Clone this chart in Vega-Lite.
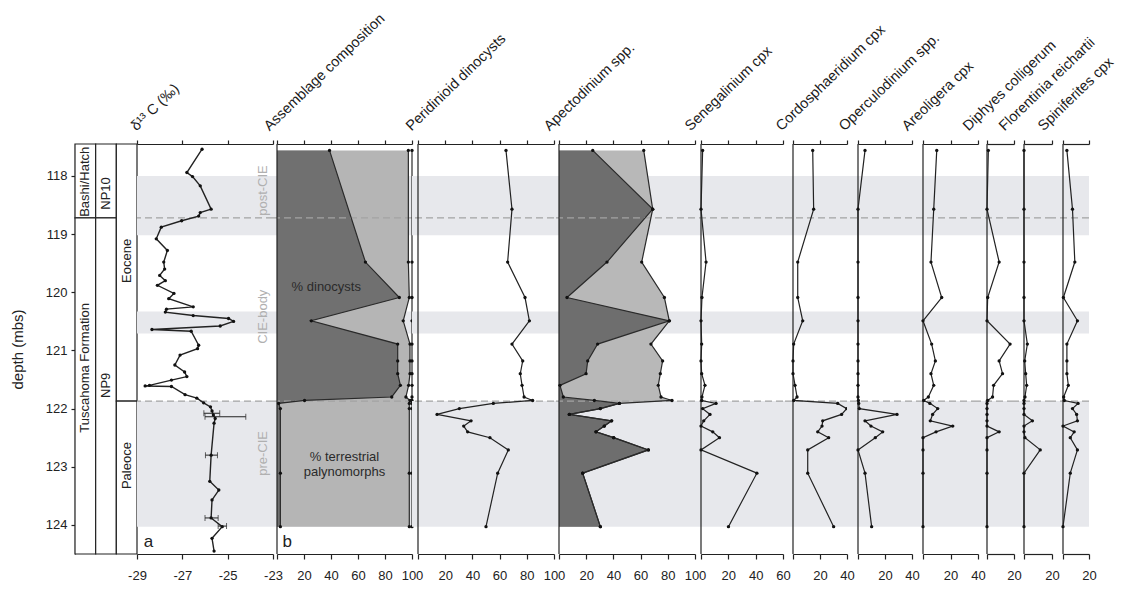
{
  "$schema": "https://vega.github.io/schema/vega-lite/v6.json",
  "padding": {"left": 10, "top": 10, "right": 5, "bottom": 5},
  "config": {
    "font": "Liberation Sans",
    "view": {"stroke": null},
    "axis": {"grid": false, "domainColor": "#222", "tickColor": "#222", "labelColor": "#222", "domainWidth": 1.2, "tickWidth": 1.2, "labelFontSize": 13, "labelOverlap": false, "labelFlush": false, "labelFont": "Liberation Sans", "titleFont": "Liberation Sans"},
    "axisTop": {"labels": false, "tickSize": 4, "titleAngle": -44, "titleAlign": "left", "titleBaseline": "alphabetic", "titleY": -13, "titleFontSize": 14.5, "titleFontWeight": "normal", "titleColor": "#1a1a1a"},
    "axisBottom": {"tickSize": 5, "labelPadding": 10, "labelExpr": "datum.value == 0 ? '' : toString(datum.value)"}
  },
  "datasets": {
    "bands": [{"top": 118.0, "base": 119.02}, {"top": 120.33, "base": 120.71}, {"top": 121.87, "base": 124.03}],
    "bounds": [{"depth": 118.72}, {"depth": 121.87}],
    "units": [
      {"col": "lith", "top": 117.45, "base": 118.72}, {"col": "lith", "top": 118.72, "base": 124.5},
      {"col": "zone", "top": 117.45, "base": 118.72}, {"col": "zone", "top": 118.72, "base": 124.5},
      {"col": "epoch", "top": 117.45, "base": 121.87}, {"col": "epoch", "top": 121.87, "base": 124.5}
    ],
    "unitLabels": [
      {"col": "lith", "label": "Bashi/Hatch", "depth": 118.1},
      {"col": "lith", "label": "Tuscahoma Formation", "depth": 121.3},
      {"col": "zone", "label": "NP10", "depth": 118.3},
      {"col": "zone", "label": "NP9", "depth": 121.6},
      {"col": "epoch", "label": "Eocene", "depth": 119.46},
      {"col": "epoch", "label": "Paleoce", "depth": 122.98}
    ],
    "phases": [{"phase": "post-CIE", "depth": 118.25}, {"phase": "CIE-body", "depth": 120.42}, {"phase": "pre-CIE", "depth": 122.77}],
    "d13c": [
      {"depth": 117.54, "d13c": -26.13}, {"depth": 117.94, "d13c": -26.8}, {"depth": 118.01, "d13c": -26.55},
      {"depth": 118.17, "d13c": -26.21}, {"depth": 118.57, "d13c": -25.73}, {"depth": 118.63, "d13c": -26.21},
      {"depth": 118.69, "d13c": -26.28}, {"depth": 118.77, "d13c": -27.03}, {"depth": 118.88, "d13c": -27.93},
      {"depth": 119.08, "d13c": -28.15}, {"depth": 119.28, "d13c": -27.66}, {"depth": 119.48, "d13c": -27.82},
      {"depth": 119.6, "d13c": -27.78}, {"depth": 119.71, "d13c": -28.0}, {"depth": 119.8, "d13c": -27.75},
      {"depth": 119.88, "d13c": -28.1}, {"depth": 120.02, "d13c": -27.37}, {"depth": 120.11, "d13c": -27.6},
      {"depth": 120.25, "d13c": -26.52}, {"depth": 120.29, "d13c": -27.7}, {"depth": 120.34, "d13c": -27.75},
      {"depth": 120.4, "d13c": -26.52}, {"depth": 120.45, "d13c": -24.96}, {"depth": 120.5, "d13c": -24.74},
      {"depth": 120.58, "d13c": -25.33}, {"depth": 120.64, "d13c": -28.34}, {"depth": 120.67, "d13c": -26.61},
      {"depth": 120.91, "d13c": -26.28}, {"depth": 120.97, "d13c": -26.33}, {"depth": 121.08, "d13c": -27.1},
      {"depth": 121.25, "d13c": -27.33}, {"depth": 121.37, "d13c": -26.9}, {"depth": 121.45, "d13c": -26.8},
      {"depth": 121.51, "d13c": -27.48}, {"depth": 121.6, "d13c": -28.45}, {"depth": 121.61, "d13c": -28.64},
      {"depth": 121.62, "d13c": -27.48}, {"depth": 121.76, "d13c": -26.88}, {"depth": 121.82, "d13c": -26.36},
      {"depth": 121.9, "d13c": -26.06}, {"depth": 121.97, "d13c": -25.76}, {"depth": 122.04, "d13c": -25.69},
      {"depth": 122.11, "d13c": -25.63}, {"depth": 122.17, "d13c": -25.55}, {"depth": 122.25, "d13c": -25.6},
      {"depth": 122.8, "d13c": -25.73}, {"depth": 123.25, "d13c": -25.79}, {"depth": 123.4, "d13c": -25.39},
      {"depth": 123.57, "d13c": -25.69}, {"depth": 123.88, "d13c": -25.73}, {"depth": 124.03, "d13c": -25.24},
      {"depth": 124.23, "d13c": -25.69}, {"depth": 124.45, "d13c": -25.6}
    ],
    "d13cErr": [
      {"depth": 122.08, "lo": -26.05, "hi": -25.35}, {"depth": 122.14, "lo": -26.0, "hi": -24.2},
      {"depth": 122.8, "lo": -25.98, "hi": -25.45}, {"depth": 123.88, "lo": -26.0, "hi": -25.42},
      {"depth": 124.02, "lo": -25.42, "hi": -25.05}
    ],
    "paly": [
      {"depth": 117.56, "asmA": 38.9, "asmB": 97.3, "asmC": 100, "peri": 64.7, "apecA": 24.8, "apecB": 62.3, "sene": 1.2, "cord": 14.6, "oper": 5.2, "areo": 10.0, "diph": 1.0, "flor": 0, "spin": 3.0},
      {"depth": 118.57, "peri": 69.1, "apecA": 68.9, "apecB": 68.9, "sene": 0, "cord": 15.3, "oper": 0, "areo": 7.8, "diph": 0, "flor": 0, "spin": 7.3},
      {"depth": 119.48, "asmA": 65.5, "asmB": 97.3, "asmC": 100, "peri": 65.9, "apecA": 35.3, "apecB": 60.8, "sene": 3.7, "cord": 3.5, "oper": 0, "areo": 5.8, "diph": 9.0, "flor": 0, "spin": 9.1},
      {"depth": 120.09, "asmA": 90.6, "asmB": 98.0, "asmC": 100, "peri": 78.7, "apecA": 5.9, "apecB": 77.5, "sene": 0.7, "cord": 3.5, "oper": 0, "areo": 13.6, "diph": 0.5, "flor": 0, "spin": 0.3},
      {"depth": 120.49, "asmA": 25.4, "asmB": 93.5, "asmC": 100, "peri": 81.9, "apecA": 81.1, "apecB": 81.1, "sene": 0, "cord": 7.2, "oper": 0, "areo": 0, "diph": 0, "flor": 0, "spin": 11.1},
      {"depth": 120.89, "asmA": 89.4, "asmB": 98.5, "asmC": 100, "peri": 69.1, "apecA": 28.4, "apecB": 67.6, "sene": 0.5, "cord": 0.5, "oper": 0, "areo": 6.3, "diph": 17.1, "flor": 2.4, "spin": 3.0},
      {"depth": 121.18, "asmA": 89.4, "asmB": 98.5, "asmC": 100, "peri": 77.0, "apecA": 21.1, "apecB": 76.2, "sene": 0, "cord": 0, "oper": 0, "areo": 9.0, "diph": 9.0, "flor": 0.5, "spin": 3.0},
      {"depth": 121.4, "asmA": 89.4, "asmB": 98.5, "asmC": 100, "peri": 75.2, "apecA": 19.9, "apecB": 74.5, "sene": 0.5, "cord": 0, "oper": 0, "areo": 5.8, "diph": 11.5, "flor": 1.2, "spin": 3.0},
      {"depth": 121.6, "asmA": 91.4, "asmB": 97.5, "asmC": 100, "peri": 76.5, "apecA": 0.7, "apecB": 73.0, "sene": 2.9, "cord": 1.5, "oper": 0, "areo": 7.8, "diph": 4.9, "flor": 1.9, "spin": 4.1},
      {"depth": 121.8, "asmA": 85.0, "asmB": 95.5, "asmC": 100, "peri": 78.0, "apecA": 3.2, "apecB": 75.0, "sene": 0.7, "cord": 3.0, "oper": 0, "areo": 3.9, "diph": 4.1, "flor": 0.7, "spin": 0.5},
      {"depth": 121.86, "asmA": 20.4, "asmB": 98.5, "asmC": 100, "peri": 84.3, "apecA": 26.0, "apecB": 83.1, "sene": 0.5, "cord": 0.5, "oper": 0.3, "areo": 0.5, "diph": 0.5, "flor": 0, "spin": 1.0},
      {"depth": 121.91, "asmA": 1.2, "asmB": 98.0, "asmC": 100, "peri": 55.4, "apecA": 44.4, "apecB": 44.4, "sene": 11.0, "cord": 33.1, "oper": 0.5, "areo": 5.0, "diph": 0, "flor": 0, "spin": 11.6},
      {"depth": 122.0, "asmA": 2.5, "asmB": 98.0, "asmC": 100, "peri": 30.4, "apecA": 30.4, "apecB": 30.4, "sene": 1.2, "cord": 39.8, "oper": 1.0, "areo": 10.7, "diph": 0, "flor": 0, "spin": 7.3},
      {"depth": 122.1, "peri": 14.0, "apecA": 7.6, "apecB": 7.6, "sene": 6.6, "cord": 36.0, "oper": 28.9, "areo": 7.0, "diph": 0, "flor": 0, "spin": 10.5},
      {"depth": 122.21, "peri": 39.0, "apecA": 38.7, "apecB": 38.7, "sene": 2.0, "cord": 22.0, "oper": 5.2, "areo": 5.3, "diph": 0, "flor": 6.0, "spin": 11.1},
      {"depth": 122.3, "peri": 33.6, "apecA": 33.3, "apecB": 33.3, "sene": 0, "cord": 21.5, "oper": 9.6, "areo": 21.6, "diph": 0, "flor": 0, "spin": 0},
      {"depth": 122.4, "peri": 36.5, "apecA": 27.2, "apecB": 27.2, "sene": 8.6, "cord": 18.3, "oper": 18.3, "areo": 9.5, "diph": 9.0, "flor": 0, "spin": 8.6},
      {"depth": 122.5, "peri": 52.9, "apecA": 40.2, "apecB": 40.2, "sene": 13.5, "cord": 26.4, "oper": 12.8, "areo": 0, "diph": 0, "flor": 0.7, "spin": 5.6},
      {"depth": 122.71, "peri": 66.4, "apecA": 65.7, "apecB": 65.7, "sene": 0, "cord": 10.9, "oper": 0, "areo": 0, "diph": 0, "flor": 11.6, "spin": 11.1},
      {"depth": 123.11, "asmA": 2.5, "asmB": 98.0, "asmC": 100, "peri": 58.6, "apecA": 17.4, "apecB": 17.4, "sene": 40.9, "cord": 10.9, "oper": 5.2, "areo": 0, "diph": 0, "flor": 0, "spin": 5.6},
      {"depth": 124.03, "asmA": 2.5, "asmB": 98.0, "asmC": 100, "peri": 50.0, "apecA": 30.4, "apecB": 30.4, "sene": 20.1, "cord": 30.1, "oper": 10.1, "areo": 0, "diph": 0, "flor": 0, "spin": 0}
    ]
  },
  "spacing": 0,
  "bounds": "flush",
  "hconcat": [
    {
      "width": 62, "height": 410,
      "layer": [
        {"data": {"name": "units"}, "mark": {"type": "rect", "fill": "white", "stroke": "#222", "strokeWidth": 1.2},
         "encoding": {
           "x": {"field": "col", "type": "nominal", "sort": ["lith", "zone", "epoch"], "scale": {"paddingInner": 0, "paddingOuter": 0}, "axis": null},
           "y": {"field": "top", "type": "quantitative", "scale": {"domain": [117.45, 124.5], "reverse": true, "nice": false, "zero": false},
                 "axis": {"orient": "left", "values": [118, 119, 120, 121, 122, 123, 124], "format": "d", "title": "depth (mbs)", "titleFontSize": 15, "titleFontWeight": "normal", "titleColor": "#222", "titlePadding": 20, "tickSize": 4, "labelPadding": 4}},
           "y2": {"field": "base"}}},
        {"data": {"name": "unitLabels"}, "mark": {"type": "text", "angle": 270, "fontSize": 13, "color": "#222", "baseline": "middle", "align": "center"},
         "encoding": {
           "x": {"field": "col", "type": "nominal", "sort": ["lith", "zone", "epoch"], "axis": null},
           "y": {"field": "depth", "type": "quantitative", "scale": {"domain": [117.45, 124.5], "reverse": true, "nice": false, "zero": false}},
           "text": {"field": "label"}}}
      ]
    },
    {
      "width": 136, "height": 410,
      "data": {"name": "d13c"},
      "resolve": {"axis": {"x": "independent"}},
      "layer": [
        {"data": {"name": "bands"}, "mark": {"type": "rect", "color": "#e7e8ec"},
         "encoding": {"y": {"field": "top", "type": "quantitative", "scale": {"domain": [117.45, 124.5], "reverse": true, "nice": false, "zero": false}, "axis": null}, "y2": {"field": "base"}}},
        {"data": {"name": "bounds"}, "mark": {"type": "rule", "color": "#a3a3a3", "strokeDash": [7, 4], "strokeWidth": 1.2},
         "encoding": {"y": {"field": "depth", "type": "quantitative", "scale": {"domain": [117.45, 124.5], "reverse": true, "nice": false, "zero": false}, "axis": null}}},
        {"data": {"name": "phases"}, "mark": {"type": "text", "angle": 270, "fontSize": 13, "color": "#b0b0b0", "baseline": "middle", "align": "center"},
         "encoding": {
           "x": {"datum": -23.42, "type": "quantitative", "scale": {"domain": [-29, -23], "nice": false, "zero": false}, "axis": null},
           "y": {"field": "depth", "type": "quantitative", "scale": {"domain": [117.45, 124.5], "reverse": true, "nice": false, "zero": false}, "axis": null},
           "text": {"field": "phase"}}},
        {"data": {"name": "d13cErr"}, "mark": {"type": "errorbar", "ticks": {"size": 6}, "color": "#222"},
         "encoding": {
           "x": {"field": "lo", "type": "quantitative", "scale": {"domain": [-29, -23], "nice": false, "zero": false}, "axis": null},
           "x2": {"field": "hi"},
           "y": {"field": "depth", "type": "quantitative", "scale": {"domain": [117.45, 124.5], "reverse": true, "nice": false, "zero": false}, "axis": null}}},
        {"mark": {"type": "line", "color": "#222", "strokeWidth": 1.4},
         "encoding": {
           "x": {"field": "d13c", "type": "quantitative", "scale": {"domain": [-29, -23], "nice": false, "zero": false}, "axis": {"orient": "bottom", "values": [-29, -27, -25, -23], "title": null}},
           "y": {"field": "depth", "type": "quantitative", "scale": {"domain": [117.45, 124.5], "reverse": true, "nice": false, "zero": false}, "axis": null},
           "order": {"field": "depth", "type": "quantitative"}}},
        {"mark": {"type": "circle", "color": "#111", "size": 11, "opacity": 1},
         "encoding": {
           "x": {"field": "d13c", "type": "quantitative", "scale": {"domain": [-29, -23], "nice": false, "zero": false}, "axis": {"orient": "top", "values": [-29, -27, -25, -23], "title": "δ¹³ C (‰)", "titleX": -1}},
           "y": {"field": "depth", "type": "quantitative", "scale": {"domain": [117.45, 124.5], "reverse": true, "nice": false, "zero": false}, "axis": null}}},
        {"data": {"values": [{"t": "a"}]}, "mark": {"type": "text", "fontSize": 17, "color": "#222", "baseline": "middle", "align": "left"},
         "encoding": {
           "x": {"datum": -28.7, "type": "quantitative", "scale": {"domain": [-29, -23], "nice": false, "zero": false}, "axis": null},
           "y": {"datum": 124.3, "type": "quantitative", "scale": {"domain": [117.45, 124.5], "reverse": true, "nice": false, "zero": false}, "axis": null},
           "text": {"field": "t"}}}
      ]
    },
    {
      "width": 139, "height": 410,
      "data": {"name": "paly"},
      "resolve": {"axis": {"x": "independent"}},
      "layer": [
        {"data": {"name": "bands"}, "mark": {"type": "rect", "color": "#e7e8ec"},
         "encoding": {"y": {"field": "top", "type": "quantitative", "scale": {"domain": [117.45, 124.5], "reverse": true, "nice": false, "zero": false}, "axis": null}, "y2": {"field": "base"}}},
        {"transform": [{"filter": {"field": "asmB", "valid": true}}], "mark": {"type": "area", "orient": "horizontal", "color": "#b5b5b5", "opacity": 1},
         "encoding": {
           "x": {"field": "asmB", "type": "quantitative", "scale": {"domain": [0, 100], "range": [4, 139], "nice": false, "zero": false}, "axis": null},
           "x2": {"datum": 0},
           "y": {"field": "depth", "type": "quantitative", "scale": {"domain": [117.45, 124.5], "reverse": true, "nice": false, "zero": false}, "axis": null}}},
        {"transform": [{"filter": {"field": "asmA", "valid": true}}], "mark": {"type": "area", "orient": "horizontal", "color": "#707070", "opacity": 1},
         "encoding": {
           "x": {"field": "asmA", "type": "quantitative", "scale": {"domain": [0, 100], "range": [4, 139], "nice": false, "zero": false}, "axis": null},
           "x2": {"datum": 0},
           "y": {"field": "depth", "type": "quantitative", "scale": {"domain": [117.45, 124.5], "reverse": true, "nice": false, "zero": false}, "axis": null}}},
        {"data": {"name": "bounds"}, "mark": {"type": "rule", "color": "#a3a3a3", "strokeDash": [7, 4], "strokeWidth": 1.2},
         "encoding": {"y": {"field": "depth", "type": "quantitative", "scale": {"domain": [117.45, 124.5], "reverse": true, "nice": false, "zero": false}, "axis": null}}},
        {"data": {"values": [{}]}, "mark": {"type": "rule", "color": "#222", "strokeWidth": 1.2},
         "encoding": {"x": {"datum": 0, "type": "quantitative", "scale": {"domain": [0, 100], "range": [4, 139], "nice": false, "zero": false}, "axis": null}}},
        {"transform": [{"filter": {"field": "asmA", "valid": true}}], "mark": {"type": "line", "color": "#2a2a2a", "strokeWidth": 1.2},
         "encoding": {
           "x": {"field": "asmA", "type": "quantitative", "scale": {"domain": [0, 100], "range": [4, 139], "nice": false, "zero": false}, "axis": {"orient": "bottom", "values": [0, 20, 40, 60, 80, 100], "title": null}},
           "y": {"field": "depth", "type": "quantitative", "scale": {"domain": [117.45, 124.5], "reverse": true, "nice": false, "zero": false}, "axis": null},
           "order": {"field": "depth", "type": "quantitative"}}},
        {"transform": [{"filter": {"field": "asmB", "valid": true}}], "mark": {"type": "line", "color": "#2a2a2a", "strokeWidth": 1.2},
         "encoding": {
           "x": {"field": "asmB", "type": "quantitative", "scale": {"domain": [0, 100], "range": [4, 139], "nice": false, "zero": false}, "axis": null},
           "y": {"field": "depth", "type": "quantitative", "scale": {"domain": [117.45, 124.5], "reverse": true, "nice": false, "zero": false}, "axis": null},
           "order": {"field": "depth", "type": "quantitative"}}},
        {"transform": [{"filter": {"field": "asmC", "valid": true}}], "mark": {"type": "line", "color": "#2a2a2a", "strokeWidth": 1.2},
         "encoding": {
           "x": {"field": "asmC", "type": "quantitative", "scale": {"domain": [0, 100], "range": [4, 139], "nice": false, "zero": false}, "axis": null},
           "y": {"field": "depth", "type": "quantitative", "scale": {"domain": [117.45, 124.5], "reverse": true, "nice": false, "zero": false}, "axis": null},
           "order": {"field": "depth", "type": "quantitative"}}},
        {"transform": [{"filter": {"field": "asmA", "valid": true}}], "mark": {"type": "circle", "color": "#111", "size": 11, "opacity": 1},
         "encoding": {
           "x": {"field": "asmA", "type": "quantitative", "scale": {"domain": [0, 100], "range": [4, 139], "nice": false, "zero": false}, "axis": {"orient": "top", "values": [0, 20, 40, 60, 80, 100], "title": "Assemblage composition", "titleX": -4}},
           "y": {"field": "depth", "type": "quantitative", "scale": {"domain": [117.45, 124.5], "reverse": true, "nice": false, "zero": false}, "axis": null}}},
        {"transform": [{"filter": {"field": "asmB", "valid": true}}], "mark": {"type": "circle", "color": "#111", "size": 11, "opacity": 1},
         "encoding": {
           "x": {"field": "asmB", "type": "quantitative", "scale": {"domain": [0, 100], "range": [4, 139], "nice": false, "zero": false}, "axis": null},
           "y": {"field": "depth", "type": "quantitative", "scale": {"domain": [117.45, 124.5], "reverse": true, "nice": false, "zero": false}, "axis": null}}},
        {"transform": [{"filter": {"field": "asmC", "valid": true}}], "mark": {"type": "circle", "color": "#111", "size": 11, "opacity": 1},
         "encoding": {
           "x": {"field": "asmC", "type": "quantitative", "scale": {"domain": [0, 100], "range": [4, 139], "nice": false, "zero": false}, "axis": null},
           "y": {"field": "depth", "type": "quantitative", "scale": {"domain": [117.45, 124.5], "reverse": true, "nice": false, "zero": false}, "axis": null}}},
        {"data": {"values": [{"t": ["% dinocysts"], "v": 36.5, "d": 119.91}, {"t": ["% terrestrial", "palynomorphs"], "v": 50, "d": 122.84}]},
         "mark": {"type": "text", "fontSize": 13, "lineHeight": 15, "color": "#2a2a2a", "baseline": "middle", "align": "center"},
         "encoding": {
           "x": {"field": "v", "type": "quantitative", "scale": {"domain": [0, 100], "range": [4, 139], "nice": false, "zero": false}, "axis": null},
           "y": {"field": "d", "type": "quantitative", "scale": {"domain": [117.45, 124.5], "reverse": true, "nice": false, "zero": false}, "axis": null},
           "text": {"field": "t"}}},
        {"data": {"values": [{"t": "b"}]}, "mark": {"type": "text", "fontSize": 17, "color": "#222", "baseline": "middle", "align": "left"},
         "encoding": {
           "x": {"datum": 4, "type": "quantitative", "scale": {"domain": [0, 100], "range": [4, 139], "nice": false, "zero": false}, "axis": null},
           "y": {"datum": 124.3, "type": "quantitative", "scale": {"domain": [117.45, 124.5], "reverse": true, "nice": false, "zero": false}, "axis": null},
           "text": {"field": "t"}}}
      ]
    },
    {
      "width": 142, "height": 410,
      "data": {"name": "paly"},
      "resolve": {"axis": {"x": "independent"}},
      "layer": [
        {"data": {"name": "bands"}, "mark": {"type": "rect", "color": "#e7e8ec"},
         "encoding": {"y": {"field": "top", "type": "quantitative", "scale": {"domain": [117.45, 124.5], "reverse": true, "nice": false, "zero": false}, "axis": null}, "y2": {"field": "base"}}},
        {"data": {"name": "bounds"}, "mark": {"type": "rule", "color": "#a3a3a3", "strokeDash": [7, 4], "strokeWidth": 1.2},
         "encoding": {"y": {"field": "depth", "type": "quantitative", "scale": {"domain": [117.45, 124.5], "reverse": true, "nice": false, "zero": false}, "axis": null}}},
        {"data": {"values": [{}]}, "mark": {"type": "rule", "color": "#222", "strokeWidth": 1.2},
         "encoding": {"x": {"datum": 0, "type": "quantitative", "scale": {"domain": [0, 100], "range": [6, 142], "nice": false, "zero": false}, "axis": null}}},
        {"transform": [{"filter": {"field": "peri", "valid": true}}], "mark": {"type": "line", "color": "#222", "strokeWidth": 1.2},
         "encoding": {
           "x": {"field": "peri", "type": "quantitative", "scale": {"domain": [0, 100], "range": [6, 142], "nice": false, "zero": false}, "axis": {"orient": "bottom", "values": [0, 20, 40, 60, 80, 100], "title": null}},
           "y": {"field": "depth", "type": "quantitative", "scale": {"domain": [117.45, 124.5], "reverse": true, "nice": false, "zero": false}, "axis": null},
           "order": {"field": "depth", "type": "quantitative"}}},
        {"transform": [{"filter": {"field": "peri", "valid": true}}], "mark": {"type": "circle", "color": "#111", "size": 11, "opacity": 1},
         "encoding": {
           "x": {"field": "peri", "type": "quantitative", "scale": {"domain": [0, 100], "range": [6, 142], "nice": false, "zero": false}, "axis": {"orient": "top", "values": [0, 20, 40, 60, 80, 100], "title": "Peridinioid dinocysts", "titleX": -1}},
           "y": {"field": "depth", "type": "quantitative", "scale": {"domain": [117.45, 124.5], "reverse": true, "nice": false, "zero": false}, "axis": null}}}
      ]
    },
    {
      "width": 141, "height": 410,
      "data": {"name": "paly"},
      "resolve": {"axis": {"x": "independent"}},
      "layer": [
        {"data": {"name": "bands"}, "mark": {"type": "rect", "color": "#e7e8ec"},
         "encoding": {"y": {"field": "top", "type": "quantitative", "scale": {"domain": [117.45, 124.5], "reverse": true, "nice": false, "zero": false}, "axis": null}, "y2": {"field": "base"}}},
        {"transform": [{"filter": {"field": "apecB", "valid": true}}], "mark": {"type": "area", "orient": "horizontal", "color": "#b8b8b8", "opacity": 1},
         "encoding": {
           "x": {"field": "apecB", "type": "quantitative", "scale": {"domain": [0, 100], "range": [5, 141], "nice": false, "zero": false}, "axis": null},
           "x2": {"datum": 0},
           "y": {"field": "depth", "type": "quantitative", "scale": {"domain": [117.45, 124.5], "reverse": true, "nice": false, "zero": false}, "axis": null}}},
        {"transform": [{"filter": {"field": "apecA", "valid": true}}], "mark": {"type": "area", "orient": "horizontal", "color": "#6e6e6e", "opacity": 1},
         "encoding": {
           "x": {"field": "apecA", "type": "quantitative", "scale": {"domain": [0, 100], "range": [5, 141], "nice": false, "zero": false}, "axis": null},
           "x2": {"datum": 0},
           "y": {"field": "depth", "type": "quantitative", "scale": {"domain": [117.45, 124.5], "reverse": true, "nice": false, "zero": false}, "axis": null}}},
        {"data": {"name": "bounds"}, "mark": {"type": "rule", "color": "#a3a3a3", "strokeDash": [7, 4], "strokeWidth": 1.2},
         "encoding": {"y": {"field": "depth", "type": "quantitative", "scale": {"domain": [117.45, 124.5], "reverse": true, "nice": false, "zero": false}, "axis": null}}},
        {"data": {"values": [{}]}, "mark": {"type": "rule", "color": "#222", "strokeWidth": 1.2},
         "encoding": {"x": {"datum": 0, "type": "quantitative", "scale": {"domain": [0, 100], "range": [5, 141], "nice": false, "zero": false}, "axis": null}}},
        {"transform": [{"filter": {"field": "apecB", "valid": true}}], "mark": {"type": "line", "color": "#2a2a2a", "strokeWidth": 1.2},
         "encoding": {
           "x": {"field": "apecB", "type": "quantitative", "scale": {"domain": [0, 100], "range": [5, 141], "nice": false, "zero": false}, "axis": {"orient": "bottom", "values": [0, 20, 40, 60, 80, 100], "title": null}},
           "y": {"field": "depth", "type": "quantitative", "scale": {"domain": [117.45, 124.5], "reverse": true, "nice": false, "zero": false}, "axis": null},
           "order": {"field": "depth", "type": "quantitative"}}},
        {"transform": [{"filter": {"field": "apecA", "valid": true}}], "mark": {"type": "line", "color": "#2a2a2a", "strokeWidth": 1.2},
         "encoding": {
           "x": {"field": "apecA", "type": "quantitative", "scale": {"domain": [0, 100], "range": [5, 141], "nice": false, "zero": false}, "axis": null},
           "y": {"field": "depth", "type": "quantitative", "scale": {"domain": [117.45, 124.5], "reverse": true, "nice": false, "zero": false}, "axis": null},
           "order": {"field": "depth", "type": "quantitative"}}},
        {"transform": [{"filter": {"field": "apecB", "valid": true}}], "mark": {"type": "circle", "color": "#111", "size": 11, "opacity": 1},
         "encoding": {
           "x": {"field": "apecB", "type": "quantitative", "scale": {"domain": [0, 100], "range": [5, 141], "nice": false, "zero": false}, "axis": {"orient": "top", "values": [0, 20, 40, 60, 80, 100], "title": "Apectodinium spp.", "titleX": -5}},
           "y": {"field": "depth", "type": "quantitative", "scale": {"domain": [117.45, 124.5], "reverse": true, "nice": false, "zero": false}, "axis": null}}},
        {"transform": [{"filter": {"field": "apecA", "valid": true}}], "mark": {"type": "circle", "color": "#111", "size": 11, "opacity": 1},
         "encoding": {
           "x": {"field": "apecA", "type": "quantitative", "scale": {"domain": [0, 100], "range": [5, 141], "nice": false, "zero": false}, "axis": null},
           "y": {"field": "depth", "type": "quantitative", "scale": {"domain": [117.45, 124.5], "reverse": true, "nice": false, "zero": false}, "axis": null}}}
      ]
    },
    {
      "width": 88, "height": 410,
      "data": {"name": "paly"},
      "resolve": {"axis": {"x": "independent"}},
      "layer": [
        {"data": {"name": "bands"}, "mark": {"type": "rect", "color": "#e7e8ec"},
         "encoding": {"y": {"field": "top", "type": "quantitative", "scale": {"domain": [117.45, 124.5], "reverse": true, "nice": false, "zero": false}, "axis": null}, "y2": {"field": "base"}}},
        {"data": {"name": "bounds"}, "mark": {"type": "rule", "color": "#a3a3a3", "strokeDash": [7, 4], "strokeWidth": 1.2},
         "encoding": {"y": {"field": "depth", "type": "quantitative", "scale": {"domain": [117.45, 124.5], "reverse": true, "nice": false, "zero": false}, "axis": null}}},
        {"data": {"values": [{}]}, "mark": {"type": "rule", "color": "#222", "strokeWidth": 1.2},
         "encoding": {"x": {"datum": 0, "type": "quantitative", "scale": {"domain": [0, 60], "range": [6, 88], "nice": false, "zero": false}, "axis": null}}},
        {"transform": [{"filter": {"field": "sene", "valid": true}}], "mark": {"type": "line", "color": "#222", "strokeWidth": 1.2},
         "encoding": {
           "x": {"field": "sene", "type": "quantitative", "scale": {"domain": [0, 60], "range": [6, 88], "nice": false, "zero": false}, "axis": {"orient": "bottom", "values": [0, 20, 40, 60], "title": null}},
           "y": {"field": "depth", "type": "quantitative", "scale": {"domain": [117.45, 124.5], "reverse": true, "nice": false, "zero": false}, "axis": null},
           "order": {"field": "depth", "type": "quantitative"}}},
        {"transform": [{"filter": {"field": "sene", "valid": true}}], "mark": {"type": "circle", "color": "#111", "size": 11, "opacity": 1},
         "encoding": {
           "x": {"field": "sene", "type": "quantitative", "scale": {"domain": [0, 60], "range": [6, 88], "nice": false, "zero": false}, "axis": {"orient": "top", "values": [0, 20, 40, 60], "title": "Senegalinium cpx", "titleX": -5}},
           "y": {"field": "depth", "type": "quantitative", "scale": {"domain": [117.45, 124.5], "reverse": true, "nice": false, "zero": false}, "axis": null}}}
      ]
    },
    {
      "width": 64, "height": 410,
      "data": {"name": "paly"},
      "resolve": {"axis": {"x": "independent"}},
      "layer": [
        {"data": {"name": "bands"}, "mark": {"type": "rect", "color": "#e7e8ec"},
         "encoding": {"y": {"field": "top", "type": "quantitative", "scale": {"domain": [117.45, 124.5], "reverse": true, "nice": false, "zero": false}, "axis": null}, "y2": {"field": "base"}}},
        {"data": {"name": "bounds"}, "mark": {"type": "rule", "color": "#a3a3a3", "strokeDash": [7, 4], "strokeWidth": 1.2},
         "encoding": {"y": {"field": "depth", "type": "quantitative", "scale": {"domain": [117.45, 124.5], "reverse": true, "nice": false, "zero": false}, "axis": null}}},
        {"data": {"values": [{}]}, "mark": {"type": "rule", "color": "#222", "strokeWidth": 1.2},
         "encoding": {"x": {"datum": 0, "type": "quantitative", "scale": {"domain": [0, 40], "range": [10, 64], "nice": false, "zero": false}, "axis": null}}},
        {"transform": [{"filter": {"field": "cord", "valid": true}}], "mark": {"type": "line", "color": "#222", "strokeWidth": 1.2},
         "encoding": {
           "x": {"field": "cord", "type": "quantitative", "scale": {"domain": [0, 40], "range": [10, 64], "nice": false, "zero": false}, "axis": {"orient": "bottom", "values": [0, 20, 40], "title": null}},
           "y": {"field": "depth", "type": "quantitative", "scale": {"domain": [117.45, 124.5], "reverse": true, "nice": false, "zero": false}, "axis": null},
           "order": {"field": "depth", "type": "quantitative"}}},
        {"transform": [{"filter": {"field": "cord", "valid": true}}], "mark": {"type": "circle", "color": "#111", "size": 11, "opacity": 1},
         "encoding": {
           "x": {"field": "cord", "type": "quantitative", "scale": {"domain": [0, 40], "range": [10, 64], "nice": false, "zero": false}, "axis": {"orient": "top", "values": [0, 20, 40], "title": "Cordosphaeridium cpx", "titleX": -2}},
           "y": {"field": "depth", "type": "quantitative", "scale": {"domain": [117.45, 124.5], "reverse": true, "nice": false, "zero": false}, "axis": null}}}
      ]
    },
    {
      "width": 65, "height": 410,
      "data": {"name": "paly"},
      "resolve": {"axis": {"x": "independent"}},
      "layer": [
        {"data": {"name": "bands"}, "mark": {"type": "rect", "color": "#e7e8ec"},
         "encoding": {"y": {"field": "top", "type": "quantitative", "scale": {"domain": [117.45, 124.5], "reverse": true, "nice": false, "zero": false}, "axis": null}, "y2": {"field": "base"}}},
        {"data": {"name": "bounds"}, "mark": {"type": "rule", "color": "#a3a3a3", "strokeDash": [7, 4], "strokeWidth": 1.2},
         "encoding": {"y": {"field": "depth", "type": "quantitative", "scale": {"domain": [117.45, 124.5], "reverse": true, "nice": false, "zero": false}, "axis": null}}},
        {"data": {"values": [{}]}, "mark": {"type": "rule", "color": "#222", "strokeWidth": 1.2},
         "encoding": {"x": {"datum": 0, "type": "quantitative", "scale": {"domain": [0, 40], "range": [11, 65], "nice": false, "zero": false}, "axis": null}}},
        {"transform": [{"filter": {"field": "oper", "valid": true}}], "mark": {"type": "line", "color": "#222", "strokeWidth": 1.2},
         "encoding": {
           "x": {"field": "oper", "type": "quantitative", "scale": {"domain": [0, 40], "range": [11, 65], "nice": false, "zero": false}, "axis": {"orient": "bottom", "values": [0, 20, 40], "title": null}},
           "y": {"field": "depth", "type": "quantitative", "scale": {"domain": [117.45, 124.5], "reverse": true, "nice": false, "zero": false}, "axis": null},
           "order": {"field": "depth", "type": "quantitative"}}},
        {"transform": [{"filter": {"field": "oper", "valid": true}}], "mark": {"type": "circle", "color": "#111", "size": 11, "opacity": 1},
         "encoding": {
           "x": {"field": "oper", "type": "quantitative", "scale": {"domain": [0, 40], "range": [11, 65], "nice": false, "zero": false}, "axis": {"orient": "top", "values": [0, 20, 40], "title": "Operculodinium spp.", "titleX": -3}},
           "y": {"field": "depth", "type": "quantitative", "scale": {"domain": [117.45, 124.5], "reverse": true, "nice": false, "zero": false}, "axis": null}}}
      ]
    },
    {
      "width": 66, "height": 410,
      "data": {"name": "paly"},
      "resolve": {"axis": {"x": "independent"}},
      "layer": [
        {"data": {"name": "bands"}, "mark": {"type": "rect", "color": "#e7e8ec"},
         "encoding": {"y": {"field": "top", "type": "quantitative", "scale": {"domain": [117.45, 124.5], "reverse": true, "nice": false, "zero": false}, "axis": null}, "y2": {"field": "base"}}},
        {"data": {"name": "bounds"}, "mark": {"type": "rule", "color": "#a3a3a3", "strokeDash": [7, 4], "strokeWidth": 1.2},
         "encoding": {"y": {"field": "depth", "type": "quantitative", "scale": {"domain": [117.45, 124.5], "reverse": true, "nice": false, "zero": false}, "axis": null}}},
        {"data": {"values": [{}]}, "mark": {"type": "rule", "color": "#222", "strokeWidth": 1.2},
         "encoding": {"x": {"datum": 0, "type": "quantitative", "scale": {"domain": [0, 40], "range": [11, 66], "nice": false, "zero": false}, "axis": null}}},
        {"transform": [{"filter": {"field": "areo", "valid": true}}], "mark": {"type": "line", "color": "#222", "strokeWidth": 1.2},
         "encoding": {
           "x": {"field": "areo", "type": "quantitative", "scale": {"domain": [0, 40], "range": [11, 66], "nice": false, "zero": false}, "axis": {"orient": "bottom", "values": [0, 20, 40], "title": null}},
           "y": {"field": "depth", "type": "quantitative", "scale": {"domain": [117.45, 124.5], "reverse": true, "nice": false, "zero": false}, "axis": null},
           "order": {"field": "depth", "type": "quantitative"}}},
        {"transform": [{"filter": {"field": "areo", "valid": true}}], "mark": {"type": "circle", "color": "#111", "size": 11, "opacity": 1},
         "encoding": {
           "x": {"field": "areo", "type": "quantitative", "scale": {"domain": [0, 40], "range": [11, 66], "nice": false, "zero": false}, "axis": {"orient": "top", "values": [0, 20, 40], "title": "Areoligera cpx", "titleX": -5}},
           "y": {"field": "depth", "type": "quantitative", "scale": {"domain": [117.45, 124.5], "reverse": true, "nice": false, "zero": false}, "axis": null}}}
      ]
    },
    {
      "width": 36, "height": 410,
      "data": {"name": "paly"},
      "resolve": {"axis": {"x": "independent"}},
      "layer": [
        {"data": {"name": "bands"}, "mark": {"type": "rect", "color": "#e7e8ec"},
         "encoding": {"y": {"field": "top", "type": "quantitative", "scale": {"domain": [117.45, 124.5], "reverse": true, "nice": false, "zero": false}, "axis": null}, "y2": {"field": "base"}}},
        {"data": {"name": "bounds"}, "mark": {"type": "rule", "color": "#a3a3a3", "strokeDash": [7, 4], "strokeWidth": 1.2},
         "encoding": {"y": {"field": "depth", "type": "quantitative", "scale": {"domain": [117.45, 124.5], "reverse": true, "nice": false, "zero": false}, "axis": null}}},
        {"data": {"values": [{}]}, "mark": {"type": "rule", "color": "#222", "strokeWidth": 1.2},
         "encoding": {"x": {"datum": 0, "type": "quantitative", "scale": {"domain": [0, 20], "range": [9, 36], "nice": false, "zero": false}, "axis": null}}},
        {"transform": [{"filter": {"field": "diph", "valid": true}}], "mark": {"type": "line", "color": "#222", "strokeWidth": 1.2},
         "encoding": {
           "x": {"field": "diph", "type": "quantitative", "scale": {"domain": [0, 20], "range": [9, 36], "nice": false, "zero": false}, "axis": {"orient": "bottom", "values": [0, 20], "title": null}},
           "y": {"field": "depth", "type": "quantitative", "scale": {"domain": [117.45, 124.5], "reverse": true, "nice": false, "zero": false}, "axis": null},
           "order": {"field": "depth", "type": "quantitative"}}},
        {"transform": [{"filter": {"field": "diph", "valid": true}}], "mark": {"type": "circle", "color": "#111", "size": 11, "opacity": 1},
         "encoding": {
           "x": {"field": "diph", "type": "quantitative", "scale": {"domain": [0, 20], "range": [9, 36], "nice": false, "zero": false}, "axis": {"orient": "top", "values": [0, 20], "title": "Diphyes colligerum", "titleX": -10}},
           "y": {"field": "depth", "type": "quantitative", "scale": {"domain": [117.45, 124.5], "reverse": true, "nice": false, "zero": false}, "axis": null}}}
      ]
    },
    {
      "width": 38, "height": 410,
      "data": {"name": "paly"},
      "resolve": {"axis": {"x": "independent"}},
      "layer": [
        {"data": {"name": "bands"}, "mark": {"type": "rect", "color": "#e7e8ec"},
         "encoding": {"y": {"field": "top", "type": "quantitative", "scale": {"domain": [117.45, 124.5], "reverse": true, "nice": false, "zero": false}, "axis": null}, "y2": {"field": "base"}}},
        {"data": {"name": "bounds"}, "mark": {"type": "rule", "color": "#a3a3a3", "strokeDash": [7, 4], "strokeWidth": 1.2},
         "encoding": {"y": {"field": "depth", "type": "quantitative", "scale": {"domain": [117.45, 124.5], "reverse": true, "nice": false, "zero": false}, "axis": null}}},
        {"data": {"values": [{}]}, "mark": {"type": "rule", "color": "#222", "strokeWidth": 1.2},
         "encoding": {"x": {"datum": 0, "type": "quantitative", "scale": {"domain": [0, 20], "range": [10, 38], "nice": false, "zero": false}, "axis": null}}},
        {"transform": [{"filter": {"field": "flor", "valid": true}}], "mark": {"type": "line", "color": "#222", "strokeWidth": 1.2},
         "encoding": {
           "x": {"field": "flor", "type": "quantitative", "scale": {"domain": [0, 20], "range": [10, 38], "nice": false, "zero": false}, "axis": {"orient": "bottom", "values": [0, 20], "title": null}},
           "y": {"field": "depth", "type": "quantitative", "scale": {"domain": [117.45, 124.5], "reverse": true, "nice": false, "zero": false}, "axis": null},
           "order": {"field": "depth", "type": "quantitative"}}},
        {"transform": [{"filter": {"field": "flor", "valid": true}}], "mark": {"type": "circle", "color": "#111", "size": 11, "opacity": 1},
         "encoding": {
           "x": {"field": "flor", "type": "quantitative", "scale": {"domain": [0, 20], "range": [10, 38], "nice": false, "zero": false}, "axis": {"orient": "top", "values": [0, 20], "title": "Florentinia reichartii", "titleX": -10}},
           "y": {"field": "depth", "type": "quantitative", "scale": {"domain": [117.45, 124.5], "reverse": true, "nice": false, "zero": false}, "axis": null}}}
      ]
    },
    {
      "width": 37, "height": 410,
      "data": {"name": "paly"},
      "resolve": {"axis": {"x": "independent"}},
      "layer": [
        {"data": {"name": "bands"}, "mark": {"type": "rect", "color": "#e7e8ec"},
         "encoding": {"y": {"field": "top", "type": "quantitative", "scale": {"domain": [117.45, 124.5], "reverse": true, "nice": false, "zero": false}, "axis": null}, "y2": {"field": "base"}}},
        {"data": {"name": "bounds"}, "mark": {"type": "rule", "color": "#a3a3a3", "strokeDash": [7, 4], "strokeWidth": 1.2},
         "encoding": {"y": {"field": "depth", "type": "quantitative", "scale": {"domain": [117.45, 124.5], "reverse": true, "nice": false, "zero": false}, "axis": null}}},
        {"data": {"values": [{}]}, "mark": {"type": "rule", "color": "#222", "strokeWidth": 1.2},
         "encoding": {"x": {"datum": 0, "type": "quantitative", "scale": {"domain": [0, 20], "range": [11, 37], "nice": false, "zero": false}, "axis": null}}},
        {"transform": [{"filter": {"field": "spin", "valid": true}}], "mark": {"type": "line", "color": "#222", "strokeWidth": 1.2},
         "encoding": {
           "x": {"field": "spin", "type": "quantitative", "scale": {"domain": [0, 20], "range": [11, 37], "nice": false, "zero": false}, "axis": {"orient": "bottom", "values": [0, 20], "title": null}},
           "y": {"field": "depth", "type": "quantitative", "scale": {"domain": [117.45, 124.5], "reverse": true, "nice": false, "zero": false}, "axis": null},
           "order": {"field": "depth", "type": "quantitative"}}},
        {"transform": [{"filter": {"field": "spin", "valid": true}}], "mark": {"type": "circle", "color": "#111", "size": 11, "opacity": 1},
         "encoding": {
           "x": {"field": "spin", "type": "quantitative", "scale": {"domain": [0, 20], "range": [11, 37], "nice": false, "zero": false}, "axis": {"orient": "top", "values": [0, 20], "title": "Spiniferites cpx", "titleX": -9}},
           "y": {"field": "depth", "type": "quantitative", "scale": {"domain": [117.45, 124.5], "reverse": true, "nice": false, "zero": false}, "axis": null}}}
      ]
    }
  ]
}
